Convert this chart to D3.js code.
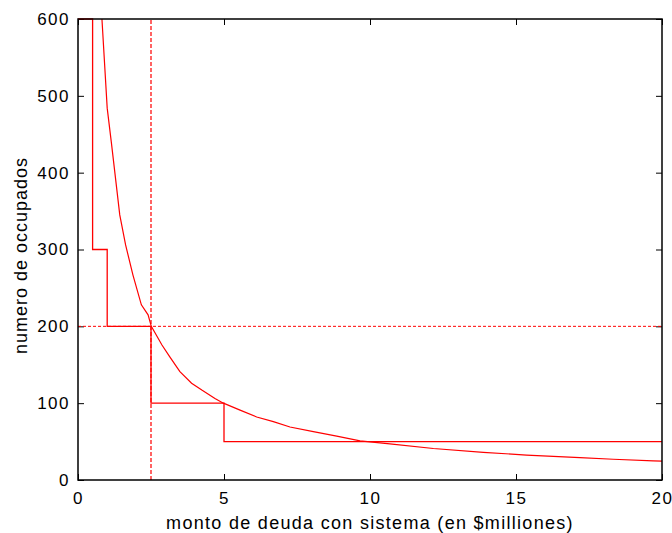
<!DOCTYPE html>
<html>
<head>
<meta charset="utf-8">
<script src="https://cdn.jsdelivr.net/npm/d3@7"></script>
<style>
  body { margin: 0; background: #fff; }
  text { font-family: "Liberation Sans", Arial, sans-serif; fill: #000; }
</style>
</head>
<body>
<div id="chart"></div>
<script>
// curve (x in $millones, y = numero de occupados)
const curveX = [0.82, 1.0, 1.14, 1.43, 1.63, 1.88, 2.17, 2.4, 2.51, 2.87, 3.15, 3.49, 3.89, 4.24, 4.69, 4.98,
  5.55, 6.12, 6.69, 7.26, 8.06, 8.86, 9.66, 10.68, 12.17, 13.88, 15.36, 17.19, 18.33, 19.7, 20];
const curveY = [600, 484, 440, 345, 306, 267, 228, 215, 200, 176, 160, 141, 126, 117, 106, 100,
  91, 82, 76, 69, 63, 57, 51, 47, 41, 36, 32.5, 29, 27, 25, 24.5];

// step line
const stepX = [0, 0.5, 1, 2.5, 5, 20];
const stepY = [600, 300, 200, 100, 50, 50];

// reference lines
const refX = 2.5;
const refY = 200;

const xTicks = [0, 5, 10, 15, 20];
const yTicks = [0, 100, 200, 300, 400, 500, 600];

const width = 672, height = 533;
const margin = {top: 19, right: 10, bottom: 53, left: 78};

let svg = d3.select('#chart')
  .append('svg')
    .attr('width', width)
    .attr('height', height);

let x = d3.scaleLinear()
  .domain([0, 20])
  .range([margin.left, width - margin.right]);
let y = d3.scaleLinear()
  .domain([0, 600])
  .range([height - margin.bottom, margin.top]);

// ticks, inward on every side
const tickLen = 6;
svg.append('g')
  .attr('transform', `translate(0,${y(0)})`)
  .call(d3.axisBottom(x).tickValues(xTicks).tickSize(-tickLen).tickPadding(12).tickFormat(d3.format('d')))
  .call(g => g.select('.domain').remove());
svg.append('g')
  .attr('transform', `translate(0,${y(600)})`)
  .call(d3.axisTop(x).tickValues(xTicks).tickSize(-tickLen).tickFormat(''))
  .call(g => g.select('.domain').remove());
svg.append('g')
  .attr('transform', `translate(${x(0)},0)`)
  .call(d3.axisLeft(y).tickValues(yTicks).tickSize(-tickLen).tickPadding(8).tickFormat(d3.format('d')))
  .call(g => g.select('.domain').remove());
svg.append('g')
  .attr('transform', `translate(${x(20)},0)`)
  .call(d3.axisRight(y).tickValues(yTicks).tickSize(-tickLen).tickFormat(''))
  .call(g => g.select('.domain').remove());

svg.selectAll('.tick text')
  .attr('font-size', 17)
  .attr('font-family', '"Liberation Sans", Arial, sans-serif')
  .style('letter-spacing', '1.5px');
svg.selectAll('.tick line').attr('stroke', '#000');

const plot = svg.append('g');

// reference lines
plot.append('line')
  .attr('x1', x(0)).attr('x2', x(20))
  .attr('y1', y(refY)).attr('y2', y(refY))
  .attr('stroke', '#ff0000')
  .attr('stroke-width', 1)
  .attr('stroke-dasharray', '3,2');
plot.append('line')
  .attr('x1', x(refX)).attr('x2', x(refX))
  .attr('y1', y(0)).attr('y2', y(600))
  .attr('stroke', '#ff3030')
  .attr('stroke-width', 1.5)
  .attr('stroke-dasharray', '4,2');

// step
let stepData = stepX.map((d, i) => [d, stepY[i]]);
plot.append('path')
  .datum(stepData)
  .attr('fill', 'none')
  .attr('stroke', '#ff0000')
  .attr('stroke-width', 1.3)
  .attr('d', d3.line().x(d => x(d[0])).y(d => y(d[1])).curve(d3.curveStepAfter));

// curve
let curveData = curveX.map((d, i) => [d, curveY[i]]);
plot.append('path')
  .datum(curveData)
  .attr('fill', 'none')
  .attr('stroke', '#ff0000')
  .attr('stroke-width', 1.2)
  .attr('d', d3.line().x(d => x(d[0])).y(d => y(d[1])));

// frame
svg.append('rect')
  .attr('x', x(0)).attr('y', y(600))
  .attr('width', x(20) - x(0))
  .attr('height', y(0) - y(600))
  .attr('fill', 'none')
  .attr('stroke', '#000')
  .attr('stroke-width', 1.5);

// labels
svg.append('text')
  .attr('x', (x(0) + x(20)) / 2)
  .attr('y', 529)
  .attr('text-anchor', 'middle')
  .attr('font-size', 18)
  .style('letter-spacing', '1.3px')
  .text('monto de deuda con sistema (en $milliones)');
svg.append('text')
  .attr('transform', `translate(27,${(y(0) + y(600)) / 2 + 6}) rotate(-90)`)
  .attr('text-anchor', 'middle')
  .attr('font-size', 18)
  .style('letter-spacing', '1px')
  .text('numero de occupados');
</script>
</body>
</html>
